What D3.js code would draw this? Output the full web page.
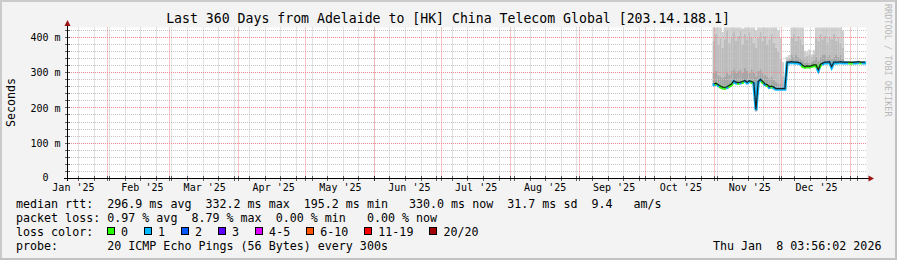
<!DOCTYPE html>
<html>
<head>
<meta charset="utf-8">
<script src="https://cdn.jsdelivr.net/npm/d3@7/dist/d3.min.js"></script>
<style>
body{margin:0;background:#f3f3f3;}
svg{display:block;font-family:'DejaVu Sans Mono',monospace;}
text{white-space:pre;}
</style>
</head>
<body>
<div class="chart"></div>
<script>
// one sample per day (RRA consolidated), Adelaide -> 203.14.188.1
const days = ['2025-10-31',
  '2025-11-01','2025-11-02','2025-11-03','2025-11-04','2025-11-05','2025-11-06','2025-11-07','2025-11-08','2025-11-09','2025-11-10',
  '2025-11-11','2025-11-12','2025-11-13','2025-11-14','2025-11-15','2025-11-16','2025-11-17','2025-11-18','2025-11-19','2025-11-20',
  '2025-11-21','2025-11-22','2025-11-23','2025-11-24','2025-11-25','2025-11-26','2025-11-27','2025-11-28','2025-11-29','2025-11-30',
  '2025-12-01','2025-12-02','2025-12-03','2025-12-04','2025-12-05','2025-12-06','2025-12-07','2025-12-08','2025-12-09','2025-12-10',
  '2025-12-11','2025-12-12','2025-12-13','2025-12-14','2025-12-15','2025-12-16','2025-12-17','2025-12-18','2025-12-19','2025-12-20',
  '2025-12-21','2025-12-22','2025-12-23','2025-12-24','2025-12-25','2025-12-26','2025-12-27','2025-12-28','2025-12-29','2025-12-30',
  '2025-12-31','2026-01-01','2026-01-02','2026-01-03','2026-01-04','2026-01-05','2026-01-06','2026-01-07'];

const median = [268,
  270,266,262,259,258,260,264,268,277,273,
  272,273,275,278,273,277,275,272,196,275,
  281,275,268,266,260,262,259,255,255,255,
  255,255,330,330,331,330,330,329,327,320,
  317,319,318,320,322,322,308,324,327,330,
  330,331,317,330,330,330,331,330,330,330,
  330,329,330,330,331,330,330,330];

// lost pings out of 20
const lossCount = [1,
  0,1,0,0,0,1,0,0,1,1,
  0,1,0,1,1,1,0,1,1,1,
  1,0,1,0,1,0,1,1,1,1,
  1,1,1,1,1,1,1,1,1,0,
  0,0,0,0,0,0,1,0,1,1,
  1,1,1,1,1,1,1,1,1,1,
  0,0,1,1,1,0,1,1];

// smoke: min ping, inner band top, middle band top, max ping
const pingMin = [262,
  264,260,255,252,252,254,258,262,270,267,
  266,267,269,272,267,271,269,266,190,269,
  275,269,262,260,254,256,253,251,251,251,
  251,252,326,326,327,326,326,325,323,315,
  312,314,313,315,317,318,303,319,323,326,
  326,327,312,326,326,326,327,326,328,328,
  328,327,328,328,329,328,328,328];
const smokeInner = [300,
  305,295,290,285,290,300,295,305,310,300,
  305,310,300,315,305,300,310,300,290,305,
  310,300,295,290,285,290,280,275,270,270,
  262,258,334,336,350,345,350,345,340,335,
  328,330,328,332,335,345,335,345,350,350,
  345,350,340,345,350,345,350,340,331,331,
  331,330,331,331,332,331,331,331];
const smokeMid = [390,
  410,380,400,370,395,420,385,400,415,390,
  405,420,380,410,395,415,400,385,370,400,
  415,390,405,380,395,410,385,370,360,340,
  290,268,338,342,400,410,390,405,395,380,
  345,348,350,346,352,400,390,410,395,405,
  385,400,395,410,390,400,385,370,332,332,
  332,331,332,332,333,332,332,332];
const pingMax = [440,
  440,430,440,415,440,440,440,440,440,440,
  440,440,425,440,440,440,440,440,420,440,
  440,440,440,430,440,440,440,440,420,400,
  330,280,345,350,440,440,440,440,440,440,
  362,358,366,352,364,440,440,440,440,440,
  440,440,440,440,440,440,440,420,333,333,
  333,332,333,333,334,333,333,333];

const yTicks = [0,100,200,300,400];
const yTickLabels = ['0','100 m','200 m','300 m','400 m'];
const xTickLabels = ["Jan '25","Feb '25","Mar '25","Apr '25","May '25","Jun '25",
  "Jul '25","Aug '25","Sep '25","Oct '25","Nov '25","Dec '25"];

const lossLabels = ['0','1','2','3','4-5','6-10','11-19','20/20'];
const lossUpper  = [0,1,2,3,5,10,19,20];
const lossColors = ['#26ff00','#00b8ff','#0059ff','#5e00ff','#dd00ff','#ff5500','#ff0000','#a10000'];
const smokeColors = ['#a6a6a6','#bcbcbc','#cfcfcf'];

const legendRows = [
  'median rtt:  296.9 ms avg  332.2 ms max  195.2 ms min   330.0 ms now  31.7 ms sd  9.4   am/s',
  'packet loss: 0.97 % avg  8.79 % max  0.00 % min   0.00 % now',
  'loss color:',
  'probe:       20 ICMP Echo Pings (56 Bytes) every 300s'
];
const stamp = 'Thu Jan  8 03:56:02 2026';
const title = 'Last 360 Days from Adelaide to [HK] China Telecom Global [203.14.188.1]';

const W = 897, H = 260;
const plot = {left:67, right:866.5, top:27.5, bottom:178.5};
const charW = 7.03;

const parseDay = d3.utcParse('%Y-%m-%d');
const tStart = new Date(Date.UTC(2025,0,13,3,56,2));
const tEnd = new Date(Date.UTC(2026,0,8,3,56,2));

const data = days.map((s,i)=>{
  const day = parseDay(s);
  return {
    day: day,
    date: d3.utcHour.offset(day,12),
    median: median[i],
    loss: lossCount[i],
    lo: pingMin[i], s1: smokeInner[i], s2: smokeMid[i], hi: pingMax[i]
  };
});

const x = d3.scaleUtc().domain([tStart,tEnd]).range([65.5,866.5]);
const y = d3.scaleLinear().domain([0,428]).range([178.5,27.5]);
const px = v => Math.floor(v)+0.5;

const svg = d3.select('.chart').append('svg').attr('width',W).attr('height',H);

// canvas + frame
svg.append('rect').attr('width',W).attr('height',H).attr('fill','#f3f3f3');
svg.append('path').attr('d',`M1,${H}V1H${W}`).attr('fill','none').attr('stroke','#cbcbcb').attr('stroke-width',2);
svg.append('path').attr('d',`M0,${H-1}H${W-1}V0`).attr('fill','none').attr('stroke','#c2c2c2').attr('stroke-width',2);

// plot background
svg.append('rect').attr('x',plot.left).attr('y',plot.top)
  .attr('width',plot.right-plot.left).attr('height',plot.bottom-plot.top).attr('fill','#fff');

svg.append('clipPath').attr('id','clip').append('rect')
  .attr('x',plot.left).attr('y',plot.top)
  .attr('width',plot.right-plot.left).attr('height',plot.bottom-plot.top);

// smoke
const smoke = svg.append('g').attr('clip-path','url(#clip)');
const bands = [['lo','s1'],['s1','s2'],['s2','hi']];
bands.forEach((b,k)=>{
  smoke.selectAll('.smoke'+k).data(data).enter().append('rect')
    .attr('class','smoke'+k)
    .attr('x',d=>x(d.day))
    .attr('width',d=>x(d3.utcDay.offset(d.day,1))-x(d.day)+0.2)
    .attr('y',d=>y(d[b[1]]))
    .attr('height',d=>Math.max(0,y(d[b[0]])-y(d[b[1]])))
    .attr('fill',smokeColors[k]);
});

// grid
const grid = svg.append('g');
const sundays = d3.utcSunday.range(tStart,tEnd);
grid.selectAll('.vmin').data(sundays).enter().append('line')
  .attr('x1',d=>px(x(d))).attr('x2',d=>px(x(d)))
  .attr('y1',plot.top).attr('y2',plot.bottom)
  .attr('stroke','#c4c4c4').attr('stroke-dasharray','1,1');
const hMinor = d3.range(20,428,20).filter(v=>v%100!==0);
grid.selectAll('.hmin').data(hMinor).enter().append('line')
  .attr('y1',d=>px(y(d))).attr('y2',d=>px(y(d)))
  .attr('x1',plot.left).attr('x2',plot.right)
  .attr('stroke','#c4c4c4').attr('stroke-dasharray','1,1');
const monthStarts = d3.utcMonth.range(d3.utcMonth.ceil(tStart),tEnd);
grid.selectAll('.vmaj').data(monthStarts).enter().append('line')
  .attr('x1',d=>px(x(d))).attr('x2',d=>px(x(d)))
  .attr('y1',plot.top).attr('y2',plot.bottom)
  .attr('stroke','#f08a8a').attr('stroke-dasharray','1,1');
grid.selectAll('.hmaj').data(yTicks.filter(v=>v>0)).enter().append('line')
  .attr('y1',d=>px(y(d))).attr('y2',d=>px(y(d)))
  .attr('x1',plot.left).attr('x2',plot.right)
  .attr('stroke','#f08a8a').attr('stroke-dasharray','1,1');

// loss coloured band under the median
const lossIndex = n => lossUpper.findIndex(u=>n<=u);
const band = svg.append('g').attr('clip-path','url(#clip)').attr('transform','translate(0,0.8)');
data.forEach((d,i)=>{
  const prev = data[i-1], next = data[i+1];
  const pts = [];
  if(prev) pts.push([(x(prev.date)+x(d.date))/2,(y(prev.median)+y(d.median))/2]);
  else pts.push([x(d.day),y(d.median)]);
  pts.push([x(d.date),y(d.median)]);
  if(next) pts.push([(x(next.date)+x(d.date))/2,(y(next.median)+y(d.median))/2]);
  else pts.push([x(d3.utcDay.offset(d.day,1)),y(d.median)]);
  band.append('path').attr('d',d3.line()(pts))
    .attr('fill','none').attr('stroke',lossColors[lossIndex(d.loss)])
    .attr('stroke-width',3);
});

// median line
svg.append('path').datum(data)
  .attr('d',d3.line().x(d=>x(d.date)).y(d=>y(d.median)))
  .attr('fill','none').attr('stroke','#202020').attr('stroke-width',1.2);

// axes
const axisCol = '#000';
const arrowCol = '#9b1414';
svg.append('line').attr('x1',64).attr('x2',869).attr('y1',178.5).attr('y2',178.5).attr('stroke',axisCol);
svg.append('line').attr('x1',67.5).attr('x2',67.5).attr('y1',181).attr('y2',25).attr('stroke',axisCol);
svg.append('path').attr('d','M874,178.5L868.5,175.5V181.5Z').attr('fill',arrowCol);
svg.append('path').attr('d','M67.5,20L64.5,26H70.5Z').attr('fill',arrowCol);

// small ticks on the axes
svg.append('g').selectAll('line').data(hMinor.concat(yTicks.slice(1))).enter().append('line')
  .attr('x1',65).attr('x2',70).attr('y1',d=>px(y(d))).attr('y2',d=>px(y(d)))
  .attr('stroke',axisCol).attr('stroke-width',0.6);
svg.append('g').selectAll('line').data(sundays.concat(monthStarts)).enter().append('line')
  .attr('x1',d=>px(x(d))).attr('x2',d=>px(x(d))).attr('y1',176).attr('y2',181)
  .attr('stroke',axisCol).attr('stroke-width',0.6);

const labelDates = d3.utcMonth.range(d3.utcMonth.floor(tStart),tEnd)
  .map(m=>d3.utcHour.offset(m,15*24+12)).filter(d=>d>=tStart && d<=tEnd);
const xAxis = d3.axisBottom(x).tickValues(labelDates)
  .tickFormat((d,i)=>xTickLabels[i]).tickSize(0).tickPadding(5);
const xAxisDraw = svg.append('g').attr('transform','translate(0,178.5)').call(xAxis);
xAxisDraw.select('.domain').remove();
xAxisDraw.attr('font-family',null).attr('font-size',null);
xAxisDraw.selectAll('text').attr('font-size','10px').attr('fill','#000');

const yAxis = d3.axisLeft(y).tickValues(yTicks)
  .tickFormat((d,i)=>yTickLabels[i]).tickSize(0).tickPadding(6.5);
const yAxisDraw = svg.append('g').attr('transform','translate(67,0)').call(yAxis);
yAxisDraw.select('.domain').remove();
yAxisDraw.attr('font-family',null).attr('font-size',null);
// labels without unit keep the digit column of the others
yAxisDraw.selectAll('text').attr('font-size','10px').attr('fill','#000')
  .attr('dx',(d,i)=>yTickLabels[i].indexOf(' ')<0 ? '-12px' : null)
  .attr('dy',(d,i)=>i===0 ? '0.2em' : '0.32em');

// titles
svg.append('text').attr('x',448).attr('y',23).attr('text-anchor','middle')
  .style('font-size','13.2px').text(title);
svg.append('text').attr('transform','translate(15,102.5) rotate(-90)')
  .attr('text-anchor','middle').style('font-size','11.6px').text('Seconds');
svg.append('text').attr('transform','translate(885,4) rotate(90)')
  .style('font-size','8.5px').attr('fill','#b8b8b8').text('RRDTOOL / TOBI OETIKER');

// legend
const rowY = [208,222,236,250];
svg.append('g').selectAll('text').data(legendRows).enter().append('text')
  .attr('x',16).attr('y',(d,i)=>rowY[i])
  .style('font-size','11.67px').text(d=>d);

let lx = 16 + 13*charW - 0.8;
lossLabels.forEach((lab,i)=>{
  svg.append('rect').attr('x',Math.round(lx)+0.5).attr('y',227.5).attr('width',7).attr('height',7)
    .attr('fill',lossColors[i]).attr('stroke','#000').attr('stroke-width',1);
  svg.append('text').attr('x',lx+14.4).attr('y',rowY[2]).style('font-size','11.67px').text(lab);
  lx = lx + 14.4 + lab.length*charW + 15.6;
});

svg.append('text').attr('x',713).attr('y',rowY[3]).style('font-size','11.67px').text(stamp);
</script>
</body>
</html>
